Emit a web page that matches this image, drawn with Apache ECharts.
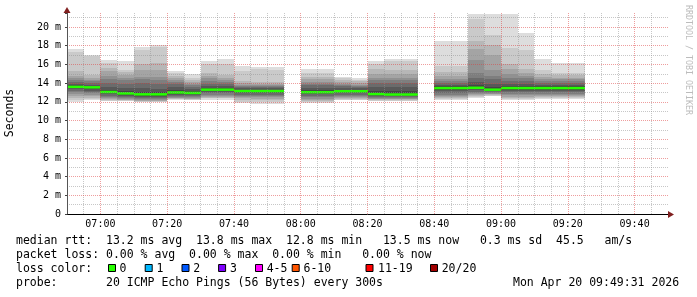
<!DOCTYPE html>
<html><head><meta charset="utf-8">
<script src="https://cdn.jsdelivr.net/npm/echarts@6/dist/echarts.min.js"></script>
<style>html,body{margin:0;padding:0;background:#fff}#c{width:697px;height:297px}</style>
</head><body><div id="c"></div>
<script>
// ---- data ----
const startTimes = ['06:50','06:55','07:00','07:05','07:10','07:15','07:20','07:25','07:30','07:35','07:40','07:45','07:50',
  '08:00','08:05','08:10','08:15','08:20','08:25','08:30',
  '08:40','08:45','08:50','08:55','09:00','09:05','09:10','09:15','09:20'];
// 20 sorted ping rtts (ms) per 5-minute step
const pings = [
 [12.0,12.2,12.4,12.6,12.8,13.0,13.2,13.35,13.5,13.55,13.65,13.75,13.9,14.1,14.3,14.5,14.8,15.25,17.3,17.6],
 [12.15,12.3,12.45,12.6,12.75,12.9,13.05,13.2,13.35,13.5,13.6,13.7,13.85,14.05,14.2,14.35,14.5,14.9,16.9,17.0],
 [12.05,12.1,12.2,12.3,12.4,12.5,12.65,12.8,12.9,13.0,13.1,13.3,13.6,14.0,14.4,14.8,15.25,15.6,16.15,16.5],
 [12.05,12.1,12.15,12.2,12.3,12.4,12.5,12.65,12.75,12.85,12.95,13.2,13.5,13.9,14.3,14.6,14.9,15.15,15.4,16.4],
 [11.95,12.0,12.05,12.1,12.2,12.3,12.45,12.55,12.65,12.75,12.85,13.1,13.5,14.0,14.4,14.7,15.4,16.0,17.5,17.9],
 [11.95,12.0,12.05,12.1,12.2,12.3,12.45,12.55,12.65,12.75,12.85,13.05,13.4,13.9,14.3,14.7,15.4,16.15,17.85,18.1],
 [12.2,12.25,12.3,12.4,12.45,12.55,12.65,12.75,12.85,12.95,13.05,13.3,13.6,13.9,14.1,14.3,14.5,14.8,15.1,15.3],
 [12.15,12.2,12.3,12.35,12.45,12.55,12.65,12.75,12.8,12.9,13.0,13.2,13.4,13.6,13.8,13.95,14.1,14.3,14.6,15.0],
 [12.15,12.4,12.45,12.5,12.6,12.75,12.9,13.05,13.15,13.25,13.35,13.5,13.7,13.95,14.2,14.5,14.8,15.1,16.05,16.4],
 [12.15,12.4,12.45,12.5,12.6,12.75,12.9,13.05,13.15,13.25,13.35,13.5,13.7,13.95,14.1,14.3,14.6,14.9,16.0,16.6],
 [11.9,12.0,12.2,12.4,12.5,12.6,12.75,12.9,13.0,13.1,13.2,13.3,13.45,13.6,13.7,13.85,14.0,14.2,15.25,15.8],
 [11.8,11.95,12.15,12.35,12.5,12.6,12.75,12.9,13.0,13.1,13.2,13.3,13.45,13.6,13.7,13.8,13.95,14.1,15.5,15.7],
 [11.8,11.95,12.15,12.35,12.5,12.6,12.75,12.9,13.0,13.1,13.2,13.3,13.45,13.6,13.7,13.8,13.95,14.1,15.4,15.7],
 [11.83,11.95,12.05,12.2,12.35,12.5,12.65,12.8,12.9,12.98,13.08,13.25,13.5,13.75,13.95,14.15,14.4,14.7,15.1,15.5],
 [11.83,11.95,12.05,12.2,12.35,12.5,12.65,12.8,12.9,12.98,13.08,13.25,13.5,13.75,13.95,14.15,14.4,14.7,15.1,15.5],
 [12.15,12.2,12.3,12.4,12.5,12.6,12.75,12.9,13.0,13.08,13.18,13.3,13.45,13.65,13.8,13.95,14.1,14.3,14.55,14.7],
 [12.15,12.2,12.3,12.4,12.5,12.6,12.75,12.9,13.0,13.08,13.18,13.3,13.45,13.6,13.7,13.85,14.0,14.2,14.35,14.5],
 [12.05,12.1,12.2,12.3,12.35,12.45,12.55,12.65,12.72,12.78,12.9,13.2,13.6,14.0,14.3,14.6,15.0,15.55,16.05,16.36],
 [12.05,12.1,12.2,12.25,12.3,12.4,12.5,12.6,12.68,12.73,12.85,13.2,13.6,14.0,14.3,14.6,15.0,15.45,16.4,16.6],
 [12.05,12.1,12.2,12.25,12.3,12.4,12.5,12.6,12.68,12.73,12.85,13.2,13.6,14.0,14.3,14.6,15.0,15.45,16.4,16.6],
 [12.15,12.3,12.4,12.5,12.6,12.75,12.95,13.15,13.3,13.4,13.55,13.7,13.85,14.0,14.2,14.4,14.8,15.2,15.8,18.5],
 [12.15,12.3,12.4,12.5,12.6,12.75,12.95,13.15,13.3,13.4,13.55,13.7,13.85,14.0,14.2,14.4,14.8,15.2,15.8,18.5],
 [12.4,12.5,12.6,12.7,12.8,12.95,13.1,13.25,13.35,13.45,13.55,13.75,14.1,14.6,15.1,16.5,17.7,18.5,20.9,21.4],
 [12.6,12.65,12.7,12.8,12.85,12.95,13.05,13.15,13.2,13.25,13.35,13.6,13.9,14.4,14.8,15.4,17.0,18.1,19.2,21.4],
 [12.2,12.3,12.45,12.55,12.7,12.85,13.0,13.15,13.3,13.4,13.55,13.7,13.9,14.2,14.6,15.0,15.5,16.0,17.8,21.4],
 [12.2,12.3,12.45,12.55,12.7,12.85,13.0,13.15,13.3,13.4,13.55,13.7,13.9,14.2,14.5,14.8,15.1,15.5,17.5,19.4],
 [12.3,12.4,12.5,12.6,12.7,12.85,13.0,13.15,13.3,13.4,13.55,13.7,13.85,14.05,14.25,14.45,14.7,15.0,15.4,16.6],
 [12.3,12.4,12.5,12.6,12.7,12.85,13.0,13.15,13.3,13.4,13.55,13.7,13.85,14.05,14.2,14.4,14.6,14.85,15.1,16.1],
 [12.3,12.4,12.5,12.6,12.7,12.85,13.0,13.15,13.3,13.4,13.55,13.7,13.85,14.05,14.2,14.4,14.6,14.85,15.1,16.1]
];
const medianRtt = [13.6,13.55,13.05,12.9,12.8,12.8,13.0,12.95,13.3,13.3,13.15,13.15,13.15,
  13.03,13.03,13.13,13.13,12.83,12.78,12.78,
  13.47,13.47,13.5,13.3,13.47,13.47,13.47,13.47,13.47];
const xTickLabels = ['07:00','07:20','07:40','08:00','08:20','08:40','09:00','09:20','09:40'];
const yTickLabels = ['0','2 m','4 m','6 m','8 m','10 m','12 m','14 m','16 m','18 m','20 m'];
const legendRtt = 'median rtt:  13.2 ms avg  13.8 ms max  12.8 ms min   13.5 ms now   0.3 ms sd  45.5   am/s';
const legendLoss = 'packet loss: 0.00 % avg  0.00 % max  0.00 % min   0.00 % now';
const lossTitle = 'loss color:';
const lossLabels = ['0','1','2','3','4-5','6-10','11-19','20/20'];
const lossColors = ['#26ff00','#00b8ff','#0059ff','#7e00ff','#ff00ff','#ff5500','#ff0000','#a00000'];
const probeText = 'probe:       20 ICMP Echo Pings (56 Bytes) every 300s';
const dateText = 'Mon Apr 20 09:49:31 2026';

// ---- chart ----
const X_MIN = 410, X_MAX = 590, Y_MAX = 21.5;
const PLOT_L = 67, PLOT_W = 601, PLOT_T = 13, PLOT_H = 201;
const PX_PER_MIN = PLOT_W / (X_MAX - X_MIN);
const PX_PER_MS = PLOT_H / Y_MAX;
const toMin = s => (+s.slice(0,2))*60 + (+s.slice(3));
const pad = n => (n<10?'0':'')+n;
const data = startTimes.map((s,i) => [toMin(s)].concat(pings[i]).concat([medianRtt[i]]));
const MONO = '"DejaVu Sans Mono", monospace';
const GRID_MINOR = 'rgba(143,143,143,0.5)';
const GRID_MAJOR = 'rgba(222,60,60,0.5)';

function renderSmoke(params, api) {
  const t = api.value(0);
  const xa = Math.round(api.coord([t, 0])[0]);
  const xb = Math.round(api.coord([t + 5, 0])[0]);
  const v = [];
  for (let k = 1; k <= 20; k++) v.push(api.value(k));
  const children = [];
  for (let i = 1; i <= 10; i++) {
    const lo = Math.round(api.coord([t, v[i-1]])[1]);
    const hi = Math.round(api.coord([t, v[20-i]])[1]);
    const c = Math.floor(190/10*(10-i)) + 50;
    children.push({type:'rect', shape:{x:xa, y:hi, width:xb-xa, height:Math.max(lo-hi,0)},
      style:{fill:'rgb('+c+','+c+','+c+')'}});
  }
  const my = api.coord([t, api.value(21)])[1];
  children.push({type:'rect', shape:{x:xa, y:my-1.25, width:xb-xa, height:2.5}, style:{fill:'#26ff00'}});
  return {type:'group', children};
}

const chart = echarts.init(document.getElementById('c'), null, {renderer:'canvas'});
const L = 16, rows = [241, 255.5, 269, 283];
const txt = (x, y, s, extra) => Object.assign({type:'text', x, y, style:{text:s, font:'11.5px '+MONO, fill:'#000', verticalAlign:'middle'}}, extra||{});
const graphics = [
  txt(L, rows[0], legendRtt),
  txt(L, rows[1], legendLoss),
  txt(L, rows[2], lossTitle),
  txt(L, rows[3], probeText),
  txt(513, rows[3], dateText),
  {type:'text', x:10, y:113, rotation:Math.PI/2, style:{text:'Seconds', font:'11.5px '+MONO, fill:'#000', align:'center', verticalAlign:'middle'}},
  {type:'text', x:688, y:60, rotation:-Math.PI/2, style:{text:'RRDTOOL / TOBI OETIKER', font:'8.3px '+MONO, fill:'#bcbcbc', align:'center', verticalAlign:'middle'}},
  {type:'polygon', z:100, shape:{points:[[63.5,13],[70.5,13],[67,7]]}, style:{fill:'#801f1f'}},
  {type:'polygon', z:100, shape:{points:[[668,211],[668,218],[674,214.5]]}, style:{fill:'#801f1f'}}
];
const boxX = [108.5,145.2,182,218.6,255.5,292.2,366,430.5];
const labX = [119.5,156.5,193.3,230,266.7,303.5,378,441.7];
lossLabels.forEach((lab, i) => {
  graphics.push({type:'rect', shape:{x:boxX[i], y:264.5, width:7, height:7}, style:{fill:lossColors[i], stroke:'#000', lineWidth:1}});
  graphics.push(txt(labX[i], rows[2], lab));
});

const fmtTime = v => { const s = pad(Math.floor(v/60))+':'+pad(v%60); return xTickLabels.indexOf(s) >= 0 ? s : ''; };
const dotted = color => ({type:[1,1], width:1, color:color});
const hiddenAxis = (gi, min, max) => ({gridIndex:gi, type:'value', min, max, show:false});
const gridLinesOnly = (extra) => Object.assign({type:'value', z:5, axisLine:{show:false}, axisTick:{show:false}, axisLabel:{show:false}}, extra);

chart.setOption({
  animation:false,
  backgroundColor:'#fff',
  grid:[
    {left:PLOT_L, top:PLOT_T, width:PLOT_W, height:PLOT_H},                                   // 0 main plot
    {left:PLOT_L - 10*PX_PER_MIN, top:PLOT_T, width:PLOT_W + 10*PX_PER_MIN, height:PLOT_H},   // 1 from 06:40: 20-min major lines
    {left:PLOT_L - 5*PX_PER_MIN, top:PLOT_T, width:PLOT_W + 5*PX_PER_MIN, height:PLOT_H},     // 2 from 06:45: odd 5-min minor lines
    {left:PLOT_L, top:PLOT_T, width:PLOT_W, height:PLOT_H + PX_PER_MS}                         // 3 from -1 ms: odd-ms minor lines
  ],
  xAxis:[
    {gridIndex:0, type:'value', min:X_MIN, max:X_MAX, interval:20, z:5,
     axisLine:{show:true, lineStyle:{color:'#000', width:1}},
     axisTick:{show:false}, axisLabel:{show:false},
     splitLine:{show:true, showMinLine:false, showMaxLine:false, lineStyle:dotted(GRID_MINOR)}},
    gridLinesOnly({gridIndex:1, min:X_MIN-10, max:X_MAX, interval:20, z:6,
     axisLabel:{show:true, interval:0, margin:5, color:'#000', fontFamily:'DejaVu Sans Mono', fontSize:10, formatter:fmtTime},
     splitLine:{show:true, showMinLine:false, showMaxLine:false, lineStyle:dotted(GRID_MAJOR)}}),
    gridLinesOnly({gridIndex:2, min:X_MIN-5, max:X_MAX, interval:10,
     splitLine:{show:true, showMinLine:false, showMaxLine:false, lineStyle:dotted(GRID_MINOR)}}),
    hiddenAxis(3, X_MIN, X_MAX)
  ],
  yAxis:[
    {gridIndex:0, type:'value', min:0, max:Y_MAX, interval:2, z:6,
     axisLine:{show:true, lineStyle:{color:'#555', width:1}},
     axisTick:{show:true, length:2, lineStyle:{color:'#444'}},
     axisLabel:{margin:6, color:'#000', fontFamily:'DejaVu Sans Mono', fontSize:10,
       formatter: v => (v % 2 === 0 && yTickLabels[v/2] !== undefined) ? yTickLabels[v/2] : ''},
     splitLine:{show:true, showMinLine:false, showMaxLine:false, lineStyle:dotted(GRID_MAJOR)}},
    hiddenAxis(1, 0, Y_MAX),
    hiddenAxis(2, 0, Y_MAX),
    gridLinesOnly({gridIndex:3, min:-1, max:Y_MAX, interval:2,
     splitLine:{show:true, showMinLine:false, showMaxLine:false, lineStyle:dotted(GRID_MINOR)}})
  ],
  series:[{
    type:'custom', renderItem:renderSmoke, data:data, clip:true,
    xAxisIndex:0, yAxisIndex:0, encode:{x:0, y:[1,20]}, z:2
  }],
  graphic: graphics
});
</script></body></html>
